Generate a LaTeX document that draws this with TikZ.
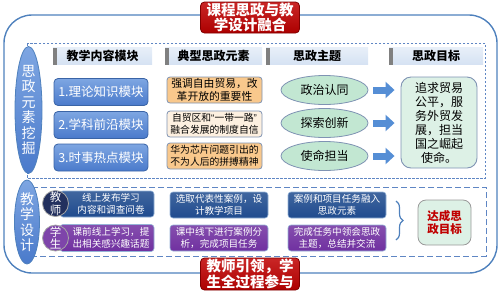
\documentclass[tikz,border=0pt]{standalone}
\usepackage{fontspec}
\setmainfont{Noto Sans CJK SC}
\newfontfamily\quotefont{Liberation Sans}
\usetikzlibrary{shapes.geometric,arrows.meta,decorations.pathreplacing}
\definecolor{frameblue}{HTML}{4F81BD}
\definecolor{dashblue}{HTML}{5F86C4}
\definecolor{titlered}{HTML}{C00000}
\definecolor{titleedge}{HTML}{7F0000}
\definecolor{headfill}{HTML}{D5E2F3}
\definecolor{headedge}{HTML}{808080}
\definecolor{modtop}{HTML}{7EA6E2}
\definecolor{modbot}{HTML}{4A7ACB}
\definecolor{modedge}{HTML}{3A64A6}
\definecolor{elemfill}{HTML}{F9C88C}
\definecolor{elemlight}{HTML}{FDF0E0}
\definecolor{elemedge}{HTML}{7F93B3}
\definecolor{themefill}{HTML}{C2E7D2}
\definecolor{goalfill}{HTML}{DDF1E6}
\definecolor{arrowblue}{HTML}{558ED5}
\definecolor{teachblue}{HTML}{1F4B8E}
\definecolor{teachdark}{HTML}{22305E}
\definecolor{studpurple}{HTML}{7030A0}
\definecolor{reachred}{HTML}{C00000}

\begin{document}
\begin{tikzpicture}[x=1pt,y=-1pt,
  outerframe/.style={draw=frameblue, line width=1.4pt, rounded corners=28pt},
  dashframe/.style={draw=dashblue, line width=0.8pt, dash pattern=on 2.5pt off 1.5pt},
  dashframelow/.style={draw=dashblue, line width=1pt, dash pattern=on 6pt off 3pt},
  titlebox/.style={draw=titleedge, line width=0.8pt, rounded corners=4pt, top color=titlered!85!white, bottom color=titlered!90!black, text=white, font=\fontsize{14.5}{15.5}\selectfont\bfseries, align=center, inner sep=0pt, minimum width=99pt, minimum height=31pt},
  headbar/.style={top color=headfill!55!white, bottom color=headfill, minimum height=17pt, inner sep=0pt, font=\fontsize{12}{13}\selectfont\bfseries,
    path picture={\fill[headedge] (path picture bounding box.south west) rectangle ([xshift=4pt]path picture bounding box.north west);}},
  vell/.style={ellipse, draw=frameblue, line width=0.8pt, top color=modtop, bottom color=modbot, text=white, align=center, inner sep=0pt, font=\fontsize{14}{15.5}\selectfont},
  modbox/.style={draw=modedge, line width=0.8pt, rounded corners=4pt, top color=modtop, bottom color=modbot, text=white, minimum width=94pt, minimum height=27pt, inner sep=0pt, font=\fontsize{12.5}{14}\selectfont},
  elembox/.style={draw=elemedge, line width=0.8pt, rounded corners=3pt, fill=elemfill, align=center, minimum width=95pt, minimum height=26pt, inner sep=0pt, font=\fontsize{10.8}{12.5}\selectfont},
  themeell/.style={ellipse, draw=elemedge, line width=0.8pt, fill=themefill, minimum width=87pt, minimum height=29pt, inner sep=0pt, font=\fontsize{12}{13}\selectfont},
  goalbox/.style={draw=elemedge, line width=0.9pt, rounded corners=10pt, fill=goalfill, align=center, minimum width=76pt, minimum height=91pt, inner sep=0pt, font=\fontsize{12}{14}\selectfont},
  flowarrow/.style={draw=arrowblue, line width=7pt, -{Triangle[length=9pt,width=16pt]}, shorten <=5pt, shorten >=6pt},
  teachbox/.style={draw=frameblue!60, line width=0.6pt, rounded corners=3pt, top color=teachblue!85!white, bottom color=teachblue, text=white, align=center, minimum height=26pt, inner sep=0pt, font=\fontsize{9.6}{12}\selectfont},
  studbox/.style={teachbox, top color=studpurple!85!white, bottom color=studpurple},
  teachdot/.style={circle, draw=gray!70, line width=0.8pt, fill=teachdark, text=white, align=center, minimum size=26pt, inner sep=0pt, font=\fontsize{11.5}{12.5}\selectfont},
  studdot/.style={teachdot, fill=studpurple!90!white},
  reachbox/.style={draw=gray!80, line width=0.8pt, rounded corners=8pt, fill=goalfill, text=reachred, align=center, minimum width=53pt, minimum height=45pt, inner sep=0pt, font=\fontsize{11.5}{13.5}\selectfont\bfseries}]
\useasboundingbox (0,0) rectangle (502,293);

\draw[outerframe] (4,15) rectangle (497,273);
\draw[dashframe] (27,43) rectangle (485,178);
\draw[dashframelow] (28,187) rectangle (486,256);

\node[titlebox] (title) at (250,17.5) {课程思政与教\\学设计融合};
\node[titlebox, minimum height=32pt] (guide) at (250,274) {教师引领，学\\生全过程参与};

\node[headbar, minimum width=99pt] (hcontent) at (102.5,56) {教学内容模块};
\node[headbar, minimum width=97pt] (helement) at (213.5,56) {典型思政元素};
\node[headbar, minimum width=102pt] (htheme) at (317,56) {思政主题};
\node[headbar, minimum width=94pt] (hgoal) at (436,56) {思政目标};

\node[vell, minimum width=27pt, minimum height=121pt] (mining) at (28.5,110) {思\\政\\元\\素\\挖\\掘};
\node[vell, minimum width=25pt, minimum height=69pt] (design) at (27,222) {教\\学\\设\\计};

\node[modbox] (mod1) at (101,92) {1.理论知识模块};
\node[modbox] (mod2) at (101,125) {2.学科前沿模块};
\node[modbox] (mod3) at (101,157.5) {3.时事热点模块};

\node[elembox] (elem1) at (214.5,90) {强调自由贸易，改\\革开放的重要性};
\node[elembox, fill=elemlight, font=\fontsize{9.8}{12}\selectfont] (elem2) at (214.5,124) {自贸区和{\quotefont“}一带一路{\quotefont”}\\融合发展的制度自信};
\node[elembox, font=\fontsize{9.8}{12}\selectfont] (elem3) at (214.5,156) {华为芯片问题引出的\\不为人后的拼搏精神};

\node[themeell] (theme1) at (324.5,90) {政治认同};
\node[themeell] (theme2) at (324.5,123) {探索创新};
\node[themeell] (theme3) at (324.5,156) {使命担当};

\node[goalbox] (goal) at (439,122.5) {追求贸易\\公平，服\\务外贸发\\展，担当\\国之崛起\\使命。};

\draw[flowarrow] (theme1.east) -- (theme1.east -| goal.west);
\draw[flowarrow] (theme2.east) -- (theme2.east -| goal.west);
\draw[flowarrow] (theme3.east) -- (theme3.east -| goal.west);

\node[teachbox, minimum width=94pt] (online) at (107,204) {\hspace*{8pt}线上发布学习\\\hspace*{8pt}内容和调查问卷};
\node[studbox, minimum width=94pt, minimum height=27pt] (preview) at (107,238) {\hspace*{8pt}课前线上学习，提\\\hspace*{8pt}出相关感兴趣话题};
\node[teachdot] (teacher) at (55.5,203.5) {教\\师};
\node[studdot] (student) at (55.5,238) {学\\生};

\node[teachbox, minimum width=98pt] (select) at (219,205) {选取代表性案例，设\\计教学项目};
\node[studbox, minimum width=98pt] (analyse) at (219,238) {课中线下进行案例分\\析，完成项目任务};
\node[teachbox, minimum width=98pt] (merge) at (337,205) {案例和项目任务融入\\思政元素};
\node[studbox, minimum width=98pt] (summary) at (337,238) {完成任务中领会思政\\主题，总结并交流};

\coordinate (bracetop) at (396,201);
\coordinate (bracebot) at (396,240);
\draw[draw=frameblue, line width=1.2pt, decorate, decoration={brace, amplitude=7pt}] (bracetop) -- (bracebot);

\node[reachbox] (reach) at (444.5,222.5) {达成思\\政目标};
\end{tikzpicture}
\end{document}
